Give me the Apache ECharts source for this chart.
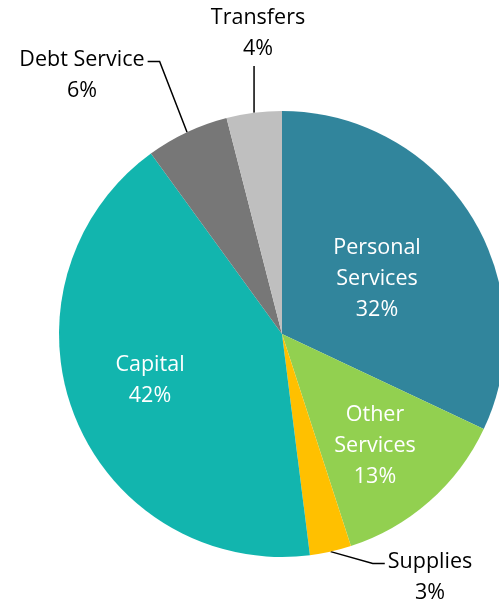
<!DOCTYPE html>
<html>
<head>
<meta charset="utf-8">
<script src="https://cdn.jsdelivr.net/npm/echarts@6/dist/echarts.min.js"></script>
<style>
  html, body { margin: 0; padding: 0; background: #fff; }
  #chart { width: 499px; height: 607px; }
</style>
</head>
<body>
<div id="chart"></div>
<script>
// Budget share by expense category (percent of total)
const categories = ['Personal\nServices', 'Other\nServices', 'Supplies', 'Capital', 'Debt Service', 'Transfers'];
const shares = [32, 13, 3, 42, 6, 4];
const sliceColors = ['#31859C', '#92D050', '#FFC000', '#12B5AE', '#777777', '#BFBFBF'];

// Where each category's label sits (label centre, px) and whether it goes outside
const labelSpots = {
  'Personal\nServices': { x: 377, y: 279, outside: false },
  'Other\nServices':    { x: 375, y: 446, outside: false },
  'Capital':            { x: 150, y: 380, outside: false },
  'Debt Service':       { x: 82,  y: 75,  outside: true, side: 'left' },
  'Transfers':          { x: 258, y: 33,  outside: true, side: 'top' },
  'Supplies':           { x: 430, y: 577, outside: true, side: 'right' }
};

const FONT = '"Open Sans", Lato, sans-serif';
const LINE_H = 31;

const chart = echarts.init(document.getElementById('chart'), null, { renderer: 'canvas' });

const data = categories.map((name, i) => {
  const spot = labelSpots[name];
  return {
    name: name,
    value: shares[i],
    itemStyle: { color: sliceColors[i] },
    label: {
      show: true,
      position: spot.outside ? 'outside' : 'inside',
      color: spot.outside ? '#000' : '#fff'
    },
    labelLine: { show: spot.outside }
  };
});

chart.setOption({
  animation: false,
  backgroundColor: '#fff',
  series: [{
    type: 'pie',
    center: [282, 334],
    radius: 223,
    startAngle: 90,
    clockwise: true,
    avoidLabelOverlap: false,
    itemStyle: { borderWidth: 0 },
    label: {
      formatter: p => p.name + '\n' + p.value + '%',
      fontFamily: FONT,
      fontSize: 21.5,
      lineHeight: LINE_H,
      align: 'center',
      verticalAlign: 'middle'
    },
    labelLine: {
      lineStyle: { color: '#000', width: 1.5 },
      length: 20,
      length2: 10
    },
    labelLayout: function (params) {
      const name = categories[params.dataIndex];
      const spot = labelSpots[name];
      const out = { x: spot.x, y: spot.y, align: 'center', verticalAlign: 'middle' };
      if (spot.outside && params.labelLinePoints) {
        const edge = params.labelLinePoints[0];
        const w = params.labelRect.width;
        const h = params.labelRect.height;
        const firstLineY = spot.y - h / 2 + LINE_H / 2 + 2;
        if (spot.side === 'left') {
          const a = [spot.x + w / 2 + 3, firstLineY];
          out.labelLinePoints = [edge, [a[0] + 12, a[1]], a];
        } else if (spot.side === 'right') {
          const a = [spot.x - w / 2 - 3, firstLineY];
          out.labelLinePoints = [edge, [a[0] - 12, a[1]], a];
        } else {
          const a = [edge[0], spot.y + h / 2 + 2];
          out.labelLinePoints = [edge, [edge[0], (edge[1] + a[1]) / 2], a];
        }
      }
      return out;
    },
    data: data
  }]
});
</script>
</body>
</html>
